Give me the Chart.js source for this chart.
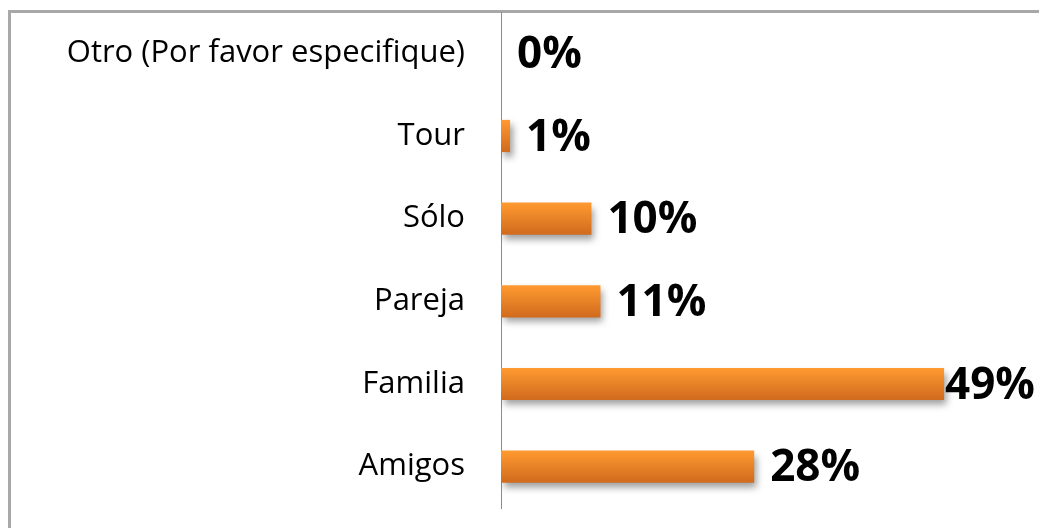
<!DOCTYPE html>
<html>
<head>
<meta charset="utf-8">
<script src="https://cdn.jsdelivr.net/npm/chart.js@4/dist/chart.umd.min.js"></script>
<style>
  html, body { margin: 0; padding: 0; background: #fff; overflow: hidden; }
  canvas { display: block; }
</style>
</head>
<body>
<canvas id="groupChart" width="1039" height="528"></canvas>
<script>
const categories = ['Otro (Por favor especifique)', 'Tour', 'Sólo', 'Pareja', 'Familia', 'Amigos'];
const percentages = [0, 1, 10, 11, 49, 28];

// grey frame along the top and left edge
const frame = {
    id: 'frame',
    beforeDraw(chart) {
        const ctx = chart.ctx;
        ctx.save();
        ctx.fillStyle = '#a8a8a8';
        ctx.fillRect(8, 10, chart.width, 3);
        ctx.fillRect(8, 10, 3, chart.height);
        ctx.restore();
    }
};

const barShadow = {
    id: 'barShadow',
    beforeDatasetsDraw(chart) {
        const ctx = chart.ctx;
        ctx.save();
        ctx.shadowColor = 'rgba(0,0,0,0.38)';
        ctx.shadowBlur = 7;
        ctx.shadowOffsetX = 3;
        ctx.shadowOffsetY = 5;
    },
    afterDatasetsDraw(chart) {
        chart.ctx.restore();
    }
};

const valueLabels = {
    id: 'valueLabels',
    afterDatasetsDraw(chart) {
        const ctx = chart.ctx;
        const meta = chart.getDatasetMeta(0);
        ctx.save();
        ctx.font = 'bold 44px "Open Sans"';
        ctx.fillStyle = '#000';
        ctx.textBaseline = 'middle';
        meta.data.forEach((bar, i) => {
            const txt = percentages[i] + '%';
            const w = ctx.measureText(txt).width;
            let x = bar.x + 16;
            if (x + w > chart.width - 4) x = chart.width - 4 - w;
            ctx.fillText(txt, x, bar.y + 2);
        });
        ctx.restore();
    }
};

const canvas = document.getElementById('groupChart');
new Chart(canvas, {
    type: 'bar',
    data: {
        labels: categories,
        datasets: [{
            data: percentages,
            backgroundColor(context) {
                const chart = context.chart;
                const y = chart.scales.y;
                if (!chart.chartArea || !y || context.dataIndex === undefined) return '#f28a2a';
                const cy = y.getPixelForValue(context.dataIndex);
                const g = chart.ctx.createLinearGradient(0, cy - 16, 0, cy + 16);
                g.addColorStop(0, '#ff9a30');
                g.addColorStop(1, '#d06a1e');
                return g;
            },
            borderWidth: 0,
            categoryPercentage: 1,
            barPercentage: 0.39
        }]
    },
    options: {
        indexAxis: 'y',
        responsive: false,
        animation: false,
        layout: { padding: { top: 12, bottom: 20, left: 0, right: 0 } },
        plugins: { legend: { display: false }, tooltip: { enabled: false } },
        scales: {
            x: {
                min: 0,
                max: 59.5,
                display: false,
                grid: { display: false }
            },
            y: {
                afterFit(scale) {
                    scale.width = 501;
                    scale.paddingTop = 0;
                    scale.paddingBottom = 0;
                },
                grid: { display: false, drawTicks: false },
                border: { display: true, color: '#8c8c8c', width: 1 },
                ticks: {
                    padding: 36,
                    color: '#000',
                    font: { family: '"Open Sans"', size: 31 }
                }
            }
        }
    },
    plugins: [frame, barShadow, valueLabels]
});
</script>
</body>
</html>
